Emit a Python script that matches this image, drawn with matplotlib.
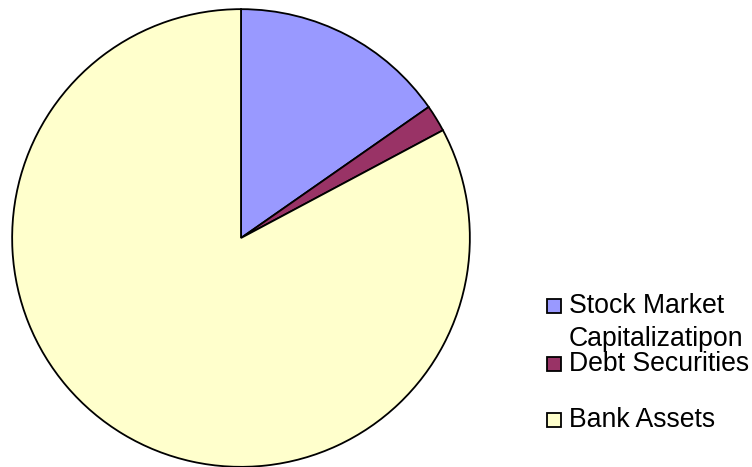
import matplotlib
matplotlib.use("Agg")
import matplotlib.pyplot as plt
from matplotlib.patches import Rectangle

# Share of financial system (percent)
labels = ["Stock Market\nCapitalizatipon", "Debt Securities", "Bank Assets"]
shares = [15.3, 1.9, 82.8]
colors = ["#9999FF", "#993366", "#FFFFCC"]

W, H = 752, 467
fig = plt.figure(figsize=(W / 100, H / 100), dpi=100)

# pie: centre (241, 238) px, radius 230 px
cx, cy, r = 241, 238, 230
ax = fig.add_axes([(cx - r) / W, (H - cy - r) / H, 2 * r / W, 2 * r / H])
ax.pie(shares, colors=colors, startangle=90, counterclock=False, radius=1,
       wedgeprops=dict(edgecolor="black", linewidth=1.3))
ax.set_xlim(-1.005, 1.005)
ax.set_ylim(-1.005, 1.005)
ax.set_aspect("equal")
ax.axis("off")
for p in ax.patches:
    p.set_clip_on(False)

# legend drawn by hand to match the original spacing
baselines = [313, 371, 427]
fs = 19.2
for lab, col, base in zip(labels, colors, baselines):
    fig.patches.append(Rectangle((547 / W, (H - base) / H), 14 / W, 14 / H,
                                 transform=fig.transFigure, facecolor=col,
                                 edgecolor="black", linewidth=1.3))
    for i, line in enumerate(lab.split("\n")):
        fig.text(569 / W, (H - base - 33 * i) / H, line, fontsize=fs,
                 family="Liberation Sans", va="baseline", ha="left")

fig.savefig("out.png", dpi=100)
